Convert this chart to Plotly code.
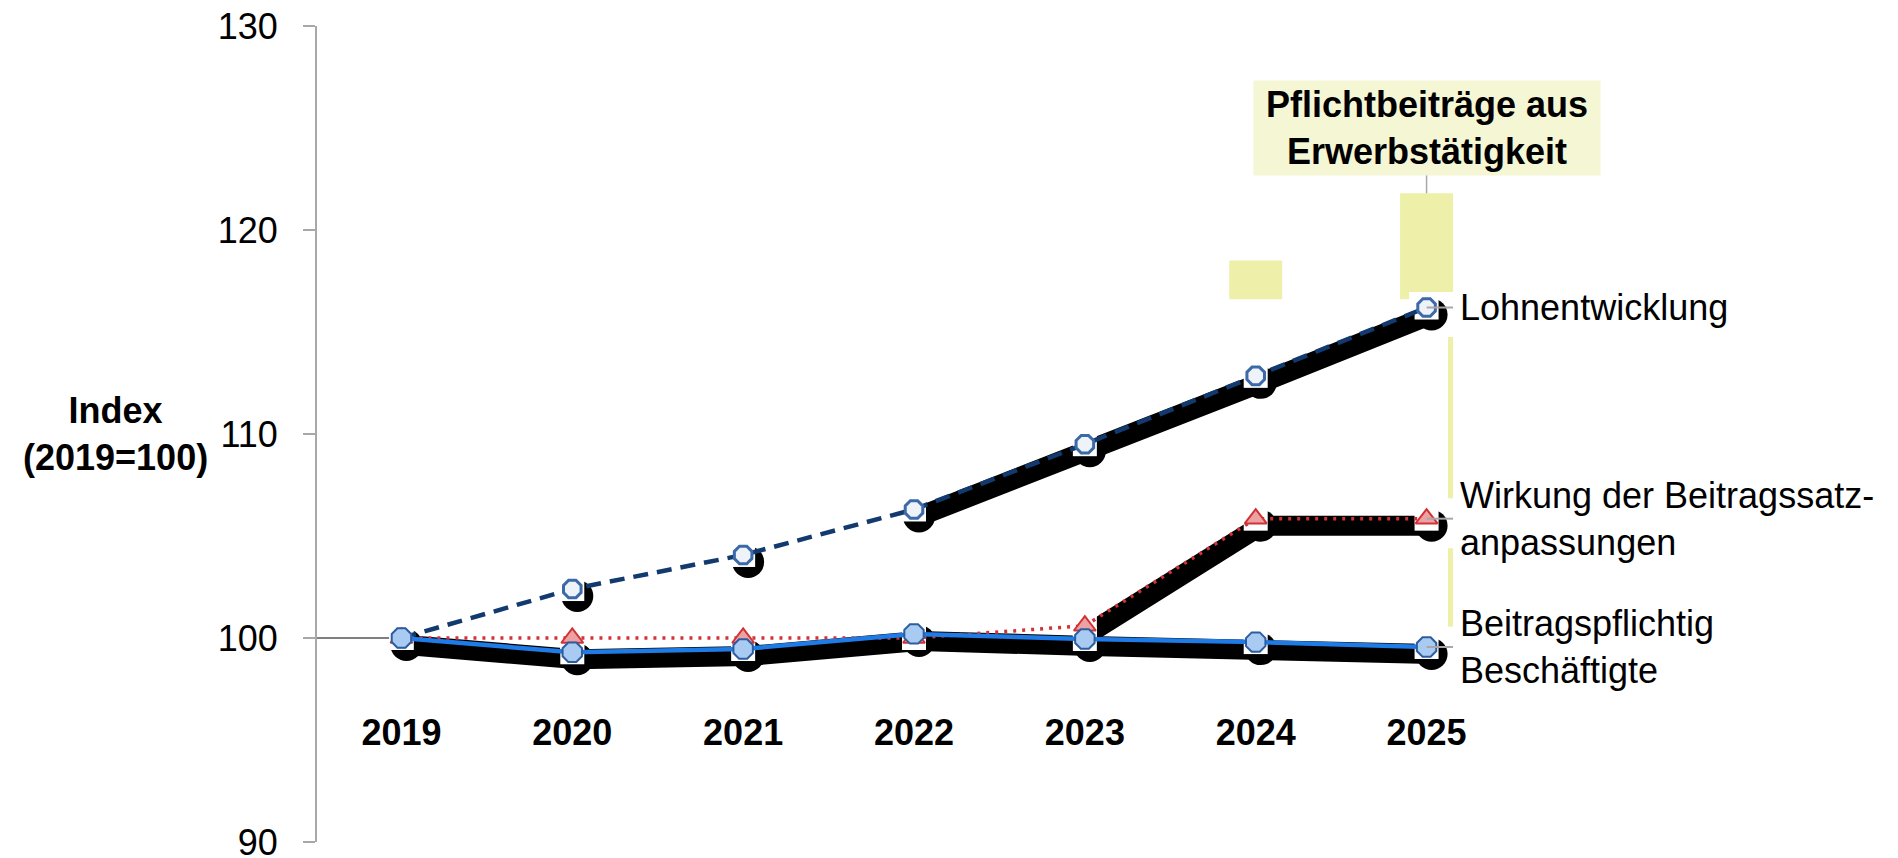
import plotly.graph_objects as go

# ---------------- data ----------------
years = [2019, 2020, 2021, 2022, 2023, 2024, 2025]
year_labels = ["2019", "2020", "2021", "2022", "2023", "2024", "2025"]
lohn = [100.0, 102.4, 104.07, 106.3, 109.5, 112.85, 116.2]
wirkung = [100.0, 100.0, 100.0, 100.0, 100.6, 105.85, 105.85]
beschaeftigte = [100.0, 99.3, 99.46, 100.2, 99.95, 99.8, 99.56]
pflicht_years = [2024, 2025]
pflicht_top = [118.5, 121.8]
pflicht_visible_base = 116.6

label_lohn = "Lohnentwicklung"
label_wirkung = "Wirkung der Beitragssatz-<br>anpassungen"
label_besch = "Beitragspflichtig<br>Beschäftigte"
box_title = "Pflichtbeiträge aus<br>Erwerbstätigkeit"
y_title = "Index<br>(2019=100)"
y_ticks = [90, 100, 110, 120, 130]

# ---------------- layout constants ----------------
# the page body adds an 8px margin, so the figure is 8px smaller and shifted
W, H = 1890, 850
ML, MR, MT, MB = 308, 386, 18, 16
x_range = [2018.5, 2025.5]
y_range = [90, 130]
plot_w = W - ML - MR
plot_h = H - MT - MB
px_per_x = plot_w / (x_range[1] - x_range[0])
px_per_y = plot_h / (y_range[1] - y_range[0])
# shadow offset (pixels -> data units)
dx = 5 / px_per_x
dy = 7 / px_per_y

FONT = "Arial, Liberation Sans, sans-serif"
C_LOHN = "#123a6e"
C_RED = "#d23236"
C_BLUE = "#1f7be6"
YELLOW = "#eef0a9"
BOX = "#f4f6d4"
GREY = "#a8a8a8"

fig = go.Figure()

# ---------- layer 1: columns (x/y, true scale) ----------
fig.add_trace(go.Bar(x=pflicht_years,
                     y=[t - pflicht_visible_base for t in pflicht_top],
                     base=pflicht_visible_base, width=0.31,
                     marker=dict(color=YELLOW, line=dict(width=0)),
                     hoverinfo="skip", showlegend=False, xaxis="x", yaxis="y"))

# ---------- layer 2: label boxes + shadows (x2/y2, shifted) ----------
shadow_kw = dict(xaxis="x2", yaxis="y2", hoverinfo="skip", showlegend=False)
fig.add_trace(go.Scatter(x=[years[-1]] * 3, y=[lohn[-1], wirkung[-1], beschaeftigte[-1]],
                         mode="markers", marker=dict(color="white", size=45, symbol="square"),
                         **shadow_kw))
fig.add_trace(go.Scatter(x=years, y=beschaeftigte, mode="lines",
                         line=dict(color="black", width=20), **shadow_kw))
fig.add_trace(go.Scatter(x=years[3:], y=lohn[3:], mode="lines",
                         line=dict(color="black", width=20), **shadow_kw))
fig.add_trace(go.Scatter(x=years[4:], y=wirkung[4:], mode="lines",
                         line=dict(color="black", width=20), **shadow_kw))
fig.add_trace(go.Scatter(x=years, y=beschaeftigte, mode="markers",
                         marker=dict(color="black", size=32, symbol="circle"), **shadow_kw))
fig.add_trace(go.Scatter(x=years[1:], y=lohn[1:], mode="markers",
                         marker=dict(color="black", size=32, symbol="circle"), **shadow_kw))
fig.add_trace(go.Scatter(x=years[5:], y=wirkung[5:], mode="markers",
                         marker=dict(color="black", size=32, symbol="circle"), **shadow_kw))

# ---------- layer 3: lines and markers (x3/y3, true scale, visible axes) ----------
main_kw = dict(xaxis="x3", yaxis="y3", showlegend=False)
for series in (lohn, wirkung, beschaeftigte):
    fig.add_trace(go.Scatter(x=years, y=series, mode="markers",
                             marker=dict(color="white", size=24, symbol="square"),
                             hoverinfo="skip", **main_kw))

fig.add_trace(go.Scatter(x=years, y=lohn, mode="lines+markers", name=label_lohn,
                         line=dict(color=C_LOHN, width=4.5, dash="15px,9px"),
                         marker=dict(symbol="octagon", size=19, color="#eef2f9",
                                     line=dict(color="#3c69a8", width=3)),
                         **main_kw))
fig.add_trace(go.Scatter(x=years, y=wirkung, mode="lines+markers", name="Wirkung",
                         line=dict(color=C_RED, width=3.5, dash="3px,6px"),
                         marker=dict(symbol="triangle-up", size=19, color="#eca2a2",
                                     line=dict(color=C_RED, width=2)),
                         **main_kw))
fig.add_trace(go.Scatter(x=years, y=beschaeftigte, mode="lines+markers", name="Beschäftigte",
                         line=dict(color=C_BLUE, width=4.5),
                         marker=dict(symbol="octagon", size=21, color="#a9cbf2",
                                     line=dict(color="#2e5d9f", width=2)),
                         **main_kw))

# ---------- shapes ----------
shapes = []
# axis stub at 100
shapes.append(dict(type="line", xref="x3", yref="y3", x0=x_range[0], x1=years[0],
                   y0=100, y1=100, line=dict(color="#808080", width=2), layer="below"))
# yellow strip at right edge of the 2025 column, interrupted by the label boxes
strip_x = years[-1] + 0.31 / 2 - 0.015
half_box = 1.1
gaps = sorted([(v - 0.1 - half_box, v - 0.1 + half_box)
               for v in (lohn[-1], wirkung[-1], beschaeftigte[-1])])
for (lo_a, hi_a), (lo_b, hi_b) in zip(gaps[:-1], gaps[1:]):
    shapes.append(dict(type="line", xref="x3", yref="y3", x0=strip_x, x1=strip_x,
                       y0=hi_a, y1=lo_b, line=dict(color=YELLOW, width=5), layer="below"))
# leader lines from 2025 markers to labels
for v in (lohn[-1], wirkung[-1], beschaeftigte[-1]):
    shapes.append(dict(type="line", xref="x3", yref="y3", x0=years[-1], x1=years[-1] + 0.155,
                       y0=v, y1=v, line=dict(color=GREY, width=2), layer="above"))
# leader line from title box to column top
box_center_paper = 0.875
box_h = 94
shapes.append(dict(type="line", xref="x3", yref="paper", x0=years[-1], x1=years[-1],
                   y0=(pflicht_top[-1] - y_range[0]) / (y_range[1] - y_range[0]),
                   y1=box_center_paper - box_h / 2 / plot_h,
                   line=dict(color=GREY, width=1.5), layer="above"))

# ---------- annotations ----------
ann = []
for v, t in ((lohn[-1], label_lohn), (wirkung[-1], label_wirkung),
             (beschaeftigte[-1], label_besch)):
    ann.append(dict(xref="x3", yref="y3", x=years[-1], y=v, xshift=31, xanchor="left",
                    yanchor="middle", align="left", showarrow=False, text=t,
                    font=dict(family=FONT, size=36, color="black")))
ann.append(dict(xref="x3", yref="paper", x=years[-1], y=box_center_paper,
                xanchor="center", yanchor="middle", showarrow=False, text=box_title,
                width=346, height=box_h, bgcolor=BOX, borderpad=0, align="center",
                font=dict(family=FONT, size=36, color="black", weight="bold")))
ann.append(dict(xref="paper", yref="paper", x=-0.168, y=0.5, xanchor="center",
                yanchor="middle", showarrow=False, text=y_title, align="center",
                font=dict(family=FONT, size=36, color="black", weight="bold")))

hidden = dict(visible=False, fixedrange=True, automargin=False)
fig.update_layout(
    width=W, height=H,
    margin=dict(l=ML, r=MR, t=MT, b=MB, autoexpand=False),
    paper_bgcolor="white", plot_bgcolor="white",
    showlegend=False,
    barmode="overlay",
    xaxis=dict(range=x_range, **hidden),
    yaxis=dict(range=y_range, **hidden),
    xaxis2=dict(overlaying="x", range=[x_range[0] - dx, x_range[1] - dx], **hidden),
    yaxis2=dict(overlaying="y", range=[y_range[0] + dy, y_range[1] + dy], **hidden),
    xaxis3=dict(overlaying="x", range=x_range, anchor="free", position=0.164,
                showline=False, showgrid=False, zeroline=False, ticks="",
                automargin=False, ticklabeloverflow="allow",
                tickmode="array", tickvals=years, ticktext=year_labels,
                tickfont=dict(family=FONT, size=36, color="black", weight="bold")),
    yaxis3=dict(overlaying="y", range=y_range, anchor="free", position=0, side="left",
                showline=True, linecolor=GREY, linewidth=2, showgrid=False, zeroline=False,
                ticks="outside", ticklen=12, tickwidth=2, tickcolor=GREY,
                automargin=False, ticklabeloverflow="allow",
                tickmode="array", tickvals=y_ticks, ticklabelstandoff=18,
                tickfont=dict(family=FONT, size=36, color="black")),
    shapes=shapes,
    annotations=ann,
)

fig.write_html("out.html")
